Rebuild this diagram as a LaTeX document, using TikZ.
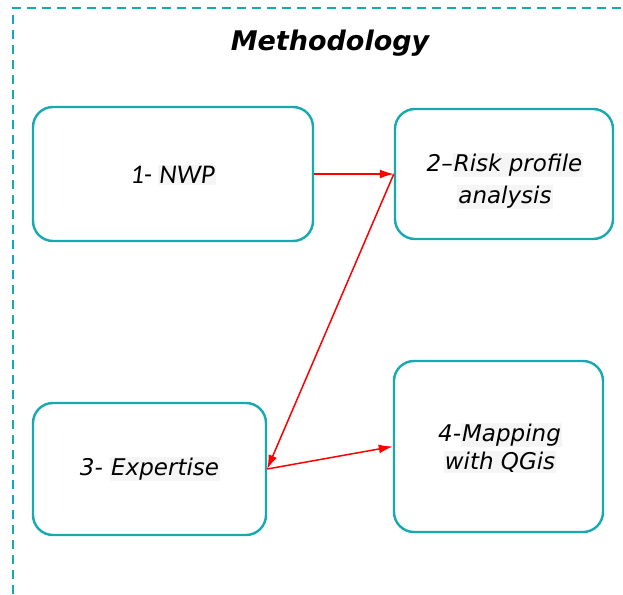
\documentclass[tikz,border=0pt]{standalone}
\usepackage{fontspec}
\usetikzlibrary{arrows.meta}
\newfontfamily\comicfont{DejaVu Sans}
\newfontfamily\calibfont{Carlito}
\definecolor{tealline}{RGB}{22,170,176}
\definecolor{hilite}{RGB}{245,245,245}
\newcommand{\hl}[1]{{\setlength{\fboxsep}{1pt}\colorbox{hilite}{#1}}}
\tikzset{
  stepbox/.style={draw=tealline, line width=2.4pt, rounded corners=20pt,
    fill=white, inner sep=0pt},
  steptext/.style={align=center, inner sep=0pt, font=\comicfont\itshape\fontsize{23}{32}\selectfont},
  flow/.style={draw=red, line width=1.5pt, -{Latex[length=14pt,width=9pt]}},
  frame/.style={draw=tealline, line width=1.8pt, dash pattern=on 9pt off 6pt}
}
\begin{document}
\begin{tikzpicture}[x=1pt,y=-1pt]
  \useasboundingbox (0,0) rectangle (623,594);
  % outer dashed frame (open to the right and bottom)
  \draw[frame] (13,594) -- (13,8) -- (623,8);
  % title
  \node[font=\comicfont\bfseries\itshape\fontsize{27}{32}\selectfont] (title) at (330,43) {Methodology};
  % process step boxes
  \node[stepbox, minimum width=280pt, minimum height=134pt] (nwp) at (173,174) {};
  \node[stepbox, minimum width=218pt, minimum height=130pt] (risk) at (504,174) {};
  \node[stepbox, minimum width=233pt, minimum height=132pt] (expert) at (149.5,469) {};
  \node[stepbox, minimum width=209pt, minimum height=171pt] (map) at (498.5,446.5) {};
  % step labels
  \node[steptext, font=\calibfont\itshape\fontsize{27}{30}\selectfont] (nwptext) at (173,175) {1- \hl{NWP}};
  \node[steptext] (risktext) at (505,181) {2–\hl{Risk profile}\\\hl{analysis}};
  \node[steptext] (experttext) at (150,469) {3- \hl{Expertise}};
  \node[steptext] (maptext) at (500,448) {4-\hl{Mapping}\\[-4pt]\hl{with QGis}};
  % connectors
  \draw[flow] (nwp.east) -- (risk.west);
  \draw[flow] (risk.west) -- (expert.east);
  \draw[flow] (expert.east) -- (map.west);
\end{tikzpicture}
\end{document}
